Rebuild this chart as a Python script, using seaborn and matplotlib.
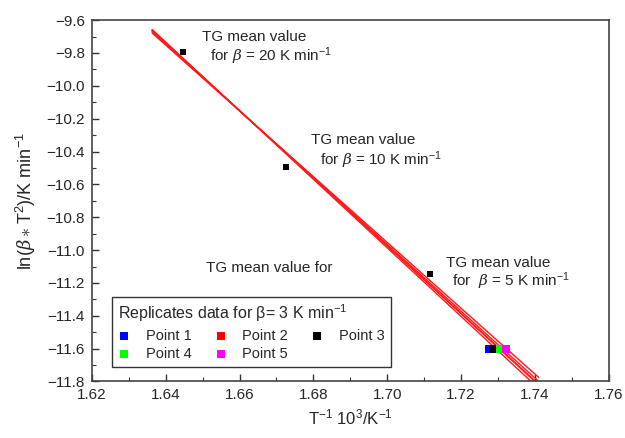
import numpy as np
import pandas as pd
import matplotlib
matplotlib.use("Agg")
import matplotlib.pyplot as plt
import seaborn as sns
from matplotlib.ticker import MultipleLocator

# ---- data ----
mean_rates = [20, 10, 5]
mean_inv_T = [1.6448, 1.6726, 1.7116]
mean_ln = [-9.796, -10.495, -11.146]

rep_names = ["Point 1", "Point 2", "Point 3", "Point 4", "Point 5"]
rep_inv_T = [1.7275, 1.7293, 1.7290, 1.7305, 1.7322]
rep_ln = [-11.600, -11.600, -11.600, -11.600, -11.600]
rep_colors = ["#0000ff", "#ff0000", "#000000", "#00ff00", "#ff00ff"]

fit_range = [1.6363, 1.7410]

# ---- style ----
sns.set_theme(style="ticks")
plt.rcParams["font.family"] = ["Liberation Sans", "DejaVu Sans"]
plt.rcParams["mathtext.fontset"] = "custom"
plt.rcParams["mathtext.rm"] = "Liberation Sans"
plt.rcParams["mathtext.it"] = "DejaVu Serif:italic"
plt.rcParams["mathtext.bf"] = "Liberation Sans:bold"

fig = plt.figure(figsize=(6.25, 4.38), dpi=100)
ax = fig.add_axes([0.147, 0.129, 0.827, 0.825])

# regression lines: mean values + each replicate
xs = np.array(fit_range)
for rx, ry in zip(rep_inv_T, rep_ln):
    X = np.array(mean_inv_T + [rx])
    Y = np.array(mean_ln + [ry])
    k, b = np.polyfit(X, Y, 1)
    sns.lineplot(x=xs, y=k * xs + b, ax=ax, color="#ff1a1a", lw=1.0, zorder=2)

# mean points
sns.scatterplot(x=mean_inv_T, y=mean_ln, ax=ax, marker="s", s=22, color="black",
                edgecolor="black", linewidth=0, zorder=4)

# replicates
handles = {}
for name, x, y, c in zip(rep_names, rep_inv_T, rep_ln, rep_colors):
    h = ax.scatter([x], [y], marker="s", s=38, color=c, linewidths=0, zorder=3,
                   label=name)
    handles[name] = h

order = ["Point 1", "Point 4", "Point 2", "Point 5", "Point 3"]
leg = ax.legend([handles[n] for n in order], order, ncol=3,
                title=r"Replicates data for $\mathrm{\beta}$= 3 K min$^{-1}$",
                loc="lower left", bbox_to_anchor=(0.025, 0.02),
                fontsize=10.5, title_fontsize=11.5, frameon=True, fancybox=False,
                edgecolor="black", markerscale=1.05, handlelength=0.8,
                handletextpad=1.1, columnspacing=1.6, labelspacing=0.3,
                borderpad=0.4)
leg.get_frame().set_linewidth(1.0)
leg._legend_box.align = "left"

# annotations
tfs = 11
ax.text(1.6499, -9.705, "TG mean value", fontsize=tfs, va="center", ha="left")
ax.text(1.6519, -9.82, r"for $\beta$ = 20 K min$^{-1}$", fontsize=tfs, va="center", ha="left")
ax.text(1.6793, -10.33, "TG mean value", fontsize=tfs, va="center", ha="left")
ax.text(1.6819, -10.45, r"for $\beta$ = 10 K min$^{-1}$", fontsize=tfs, va="center", ha="left")
ax.text(1.7159, -11.08, "TG mean value", fontsize=tfs, va="center", ha="left")
ax.text(1.7175, -11.19, r"for  $\beta$ = 5 K min$^{-1}$", fontsize=tfs, va="center", ha="left")
ax.text(1.6509, -11.11, "TG mean value for", fontsize=tfs, va="center", ha="left")

# axes
ax.set_xlim(1.62, 1.76)
ax.set_ylim(-11.8, -9.6)
ax.xaxis.set_major_locator(MultipleLocator(0.02))
ax.xaxis.set_minor_locator(MultipleLocator(0.01))
ax.yaxis.set_major_locator(MultipleLocator(0.2))
ax.yaxis.set_minor_locator(MultipleLocator(0.1))
ax.xaxis.set_major_formatter(matplotlib.ticker.FuncFormatter(lambda v, p: f"{v:.2f}"))
ax.yaxis.set_major_formatter(matplotlib.ticker.FuncFormatter(
    lambda v, p: f"{v:.1f}".replace("-", "\u2212")))
ax.tick_params(which="major", direction="in", length=5, width=1, labelsize=11,
               color="#333333", pad=5)
ax.tick_params(which="minor", direction="in", length=3, width=0.8, color="#333333")
ax.tick_params(top=False, right=False, which="both")
for s in ax.spines.values():
    s.set_visible(True)
    s.set_color("#444444")
    s.set_linewidth(1.2)

ax.set_xlabel(r"T$^{-1}$ 10$^{3}$/K$^{-1}$", fontsize=12, labelpad=4)
ax.set_ylabel(r"ln($\beta\ast$T$^2$)/K min$^{-1}$", fontsize=13, labelpad=6)

fig.savefig("out.png", dpi=100)
